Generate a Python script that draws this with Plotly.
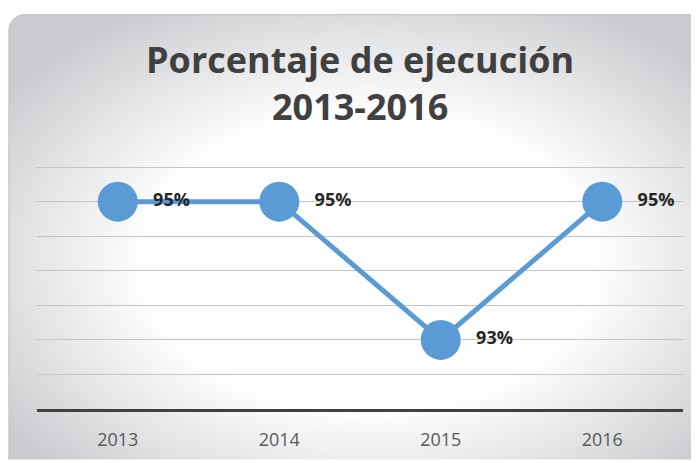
import base64
import plotly.graph_objects as go

years = ["2013", "2014", "2015", "2016"]
values = [95, 95, 93, 95]

# page has an 8px body margin, so figure is 8px smaller than the window
W, H = 691, 455
ml, mr, mt, mb = 29, 16, 157, 51
pw, ph = W - ml - mr, H - mt - mb

svg = f'''<svg xmlns="http://www.w3.org/2000/svg" width="{W}" height="{H}" viewBox="0 0 {W} {H}">
<defs><radialGradient id="g" cx="0.5" cy="0.52" r="0.62">
<stop offset="0" stop-color="#ffffff"/><stop offset="0.5" stop-color="#ffffff"/>
<stop offset="1" stop-color="#c9cbce"/></radialGradient></defs>
<rect x="1" y="5" width="720" height="480" rx="16" ry="16" fill="url(#g)" stroke="#c6c8cb" stroke-width="1.5"/>
</svg>'''
src = "data:image/svg+xml;base64," + base64.b64encode(svg.encode()).decode()

FONT = "Open Sans, sans-serif"

fig = go.Figure()
fig.add_trace(go.Scatter(
    x=years, y=values, mode="lines+markers+text",
    line=dict(color="#5B9BD5", width=5),
    marker=dict(size=40, color="#5B9BD5"),
    texttemplate="&nbsp;&nbsp;<b>%{y}%</b>", textposition="middle right",
    textfont=dict(family=FONT, size=18, color="#262626"),
    cliponaxis=False, hoverinfo="skip",
))

fig.update_layout(
    width=W, height=H,
    margin=dict(l=ml, r=mr, t=mt, b=mb),
    paper_bgcolor="white", plot_bgcolor="rgba(0,0,0,0)",
    showlegend=False,
    annotations=[dict(text="<b>Porcentaje de ejecución<br>2013-2016</b>", xref="paper", yref="paper",
                      x=0.5, xanchor="center", y=1 + (mt - 74) / ph, yanchor="middle",
                      showarrow=False,
                      font=dict(family=FONT, size=36, color="#404040"))],
    images=[dict(source=src, xref="paper", yref="paper", x=-ml / pw, y=1 + mt / ph,
                 sizex=W / pw, sizey=H / ph, sizing="stretch", xanchor="left", yanchor="top",
                 layer="below")],
    xaxis=dict(type="category", range=[-0.5, 3.5], showgrid=False, showline=True,
               linecolor="#404040", linewidth=3, ticks="", ticklabelstandoff=12,
               tickfont=dict(family=FONT, size=18, color="#595959")),
    yaxis=dict(range=[92, 95.53], tickvals=[92.5, 93, 93.5, 94, 94.5, 95, 95.5],
               showticklabels=False, showgrid=True,
               gridcolor="#c4c5c8", gridwidth=1, zeroline=False, showline=False),
)

fig.write_html("out.html")
